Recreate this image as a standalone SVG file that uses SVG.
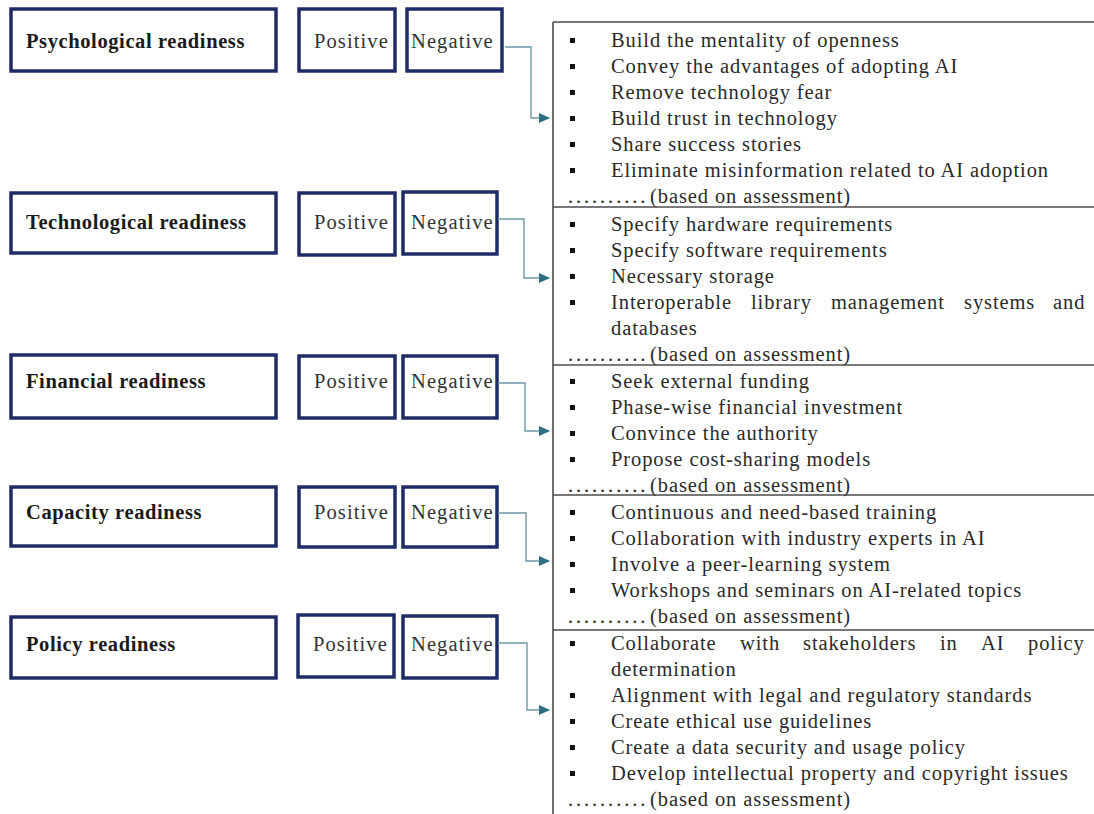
<svg xmlns="http://www.w3.org/2000/svg" width="1094" height="814" viewBox="0 0 1094 814">
<style>
  .box{fill:#ffffff;stroke:#1f2c66;stroke-width:3.5}
  .lbl{font-family:"Liberation Serif",serif;font-weight:bold;font-size:20.5px;letter-spacing:0.6px;fill:#1a1a1a}
  .pn{font-family:"Liberation Serif",serif;font-size:20.5px;letter-spacing:1.1px;fill:#333333}
  .it{font-family:"Liberation Serif",serif;font-size:20.5px;letter-spacing:0.9px;fill:#2a2a2a}
  .dots{letter-spacing:2.9px}
  .conn{fill:none;stroke:#6f98a6;stroke-width:1.4}
  .panel{fill:none;stroke:#4d4d4d;stroke-width:1.6}
  .bul{fill:#111111}
</style>
<defs>
  <marker id="ah" markerUnits="userSpaceOnUse" markerWidth="11" markerHeight="11" viewBox="0 0 11 11" refX="10" refY="5.5" orient="auto">
    <path d="M0,0.5 L11,5.5 L0,10.5 Z" fill="#2d6e80"/>
  </marker>
</defs>
<rect width="1094" height="814" fill="#ffffff"/>

<g id="row-psychological">
  <rect class="box" x="11" y="9" width="265" height="62"/>
  <text class="lbl" x="26" y="48">Psychological readiness</text>
  <rect class="box" x="299" y="9" width="96" height="62"/>
  <text class="pn" x="314" y="48">Positive</text>
  <rect class="box" x="407" y="9" width="95" height="62"/>
  <text class="pn" x="411" y="48">Negative</text>
</g>
<g id="row-technological">
  <rect class="box" x="11" y="193" width="265" height="60"/>
  <text class="lbl" x="26" y="229">Technological readiness</text>
  <rect class="box" x="299" y="193" width="96" height="62"/>
  <text class="pn" x="314" y="229">Positive</text>
  <rect class="box" x="403" y="192" width="94" height="62"/>
  <text class="pn" x="411" y="229">Negative</text>
</g>
<g id="row-financial">
  <rect class="box" x="11" y="355" width="265" height="63"/>
  <text class="lbl" x="26" y="388">Financial readiness</text>
  <rect class="box" x="299" y="356" width="96" height="62"/>
  <text class="pn" x="314" y="388">Positive</text>
  <rect class="box" x="403" y="356" width="94" height="62"/>
  <text class="pn" x="411" y="388">Negative</text>
</g>
<g id="row-capacity">
  <rect class="box" x="11" y="487" width="265" height="59"/>
  <text class="lbl" x="26" y="519">Capacity readiness</text>
  <rect class="box" x="299" y="487" width="96" height="60"/>
  <text class="pn" x="314" y="519">Positive</text>
  <rect class="box" x="403" y="487" width="94" height="60"/>
  <text class="pn" x="411" y="519">Negative</text>
</g>
<g id="row-policy">
  <rect class="box" x="11" y="617" width="265" height="61"/>
  <text class="lbl" x="26" y="651">Policy readiness</text>
  <rect class="box" x="298" y="615" width="96" height="62"/>
  <text class="pn" x="313" y="651">Positive</text>
  <rect class="box" x="403" y="616" width="94" height="62"/>
  <text class="pn" x="411" y="651">Negative</text>
</g>

<g id="panel">
  <path class="panel" d="M553,22 H1094 M553,22 V814 M553,207 H1094 M553,365 H1094 M553,495 H1094 M553,630 H1094"/>
</g>

<g id="list-psychological">
  <rect class="bul" x="570" y="38" width="5" height="5"/><text class="it" x="611" y="47">Build the mentality of openness</text>
  <rect class="bul" x="570" y="64" width="5" height="5"/><text class="it" x="611" y="73">Convey the advantages of adopting AI</text>
  <rect class="bul" x="570" y="90" width="5" height="5"/><text class="it" x="611" y="99">Remove technology fear</text>
  <rect class="bul" x="570" y="116" width="5" height="5"/><text class="it" x="611" y="125">Build trust in technology</text>
  <rect class="bul" x="570" y="142" width="5" height="5"/><text class="it" x="611" y="151">Share success stories</text>
  <rect class="bul" x="570" y="168" width="5" height="5"/><text class="it" x="611" y="177">Eliminate misinformation related to AI adoption</text>
  <text class="it" y="203"><tspan class="dots" x="568">..........</tspan><tspan x="650">(based on assessment)</tspan></text>
</g>
<g id="list-technological">
  <rect class="bul" x="570" y="222" width="5" height="5"/><text class="it" x="611" y="231">Specify hardware requirements</text>
  <rect class="bul" x="570" y="248" width="5" height="5"/><text class="it" x="611" y="257">Specify software requirements</text>
  <rect class="bul" x="570" y="274" width="5" height="5"/><text class="it" x="611" y="283">Necessary storage</text>
  <rect class="bul" x="570" y="300" width="5" height="5"/><text class="it" y="309"><tspan x="611">Interoperable</tspan><tspan x="751">library</tspan><tspan x="831">management</tspan><tspan x="964">systems</tspan><tspan x="1053">and</tspan></text>
  <text class="it" x="611" y="335">databases</text>
  <text class="it" y="361"><tspan class="dots" x="568">..........</tspan><tspan x="650">(based on assessment)</tspan></text>
</g>
<g id="list-financial">
  <rect class="bul" x="570" y="379" width="5" height="5"/><text class="it" x="611" y="388">Seek external funding</text>
  <rect class="bul" x="570" y="405" width="5" height="5"/><text class="it" x="611" y="414">Phase-wise financial investment</text>
  <rect class="bul" x="570" y="431" width="5" height="5"/><text class="it" x="611" y="440">Convince the authority</text>
  <rect class="bul" x="570" y="457" width="5" height="5"/><text class="it" x="611" y="466">Propose cost-sharing models</text>
  <text class="it" y="492"><tspan class="dots" x="568">..........</tspan><tspan x="650">(based on assessment)</tspan></text>
</g>
<g id="list-capacity">
  <rect class="bul" x="570" y="510" width="5" height="5"/><text class="it" x="611" y="519">Continuous and need-based training</text>
  <rect class="bul" x="570" y="536" width="5" height="5"/><text class="it" x="611" y="545">Collaboration with industry experts in AI</text>
  <rect class="bul" x="570" y="562" width="5" height="5"/><text class="it" x="611" y="571">Involve a peer-learning system</text>
  <rect class="bul" x="570" y="588" width="5" height="5"/><text class="it" x="611" y="597">Workshops and seminars on AI-related topics</text>
  <text class="it" y="623"><tspan class="dots" x="568">..........</tspan><tspan x="650">(based on assessment)</tspan></text>
</g>
<g id="list-policy">
  <rect class="bul" x="570" y="641" width="5" height="5"/><text class="it" y="650"><tspan x="611">Collaborate</tspan><tspan x="740">with</tspan><tspan x="803">stakeholders</tspan><tspan x="940">in</tspan><tspan x="981">AI</tspan><tspan x="1028">policy</tspan></text>
  <text class="it" x="611" y="676">determination</text>
  <rect class="bul" x="570" y="693" width="5" height="5"/><text class="it" x="611" y="702">Alignment with legal and regulatory standards</text>
  <rect class="bul" x="570" y="719" width="5" height="5"/><text class="it" x="611" y="728">Create ethical use guidelines</text>
  <rect class="bul" x="570" y="745" width="5" height="5"/><text class="it" x="611" y="754">Create a data security and usage policy</text>
  <rect class="bul" x="570" y="771" width="5" height="5"/><text class="it" x="611" y="780">Develop intellectual property and copyright issues</text>
  <text class="it" y="806"><tspan class="dots" x="568">..........</tspan><tspan x="650">(based on assessment)</tspan></text>
</g>

<g id="connectors">
  <path class="conn" d="M505,47 H531 V118 H549" marker-end="url(#ah)"/>
  <path class="conn" d="M498,219 H524 V278 H549" marker-end="url(#ah)"/>
  <path class="conn" d="M498,383 H525 V431 H549" marker-end="url(#ah)"/>
  <path class="conn" d="M498,513 H526 V561 H549" marker-end="url(#ah)"/>
  <path class="conn" d="M498,643 H527 V710 H549" marker-end="url(#ah)"/>
</g>
</svg>
